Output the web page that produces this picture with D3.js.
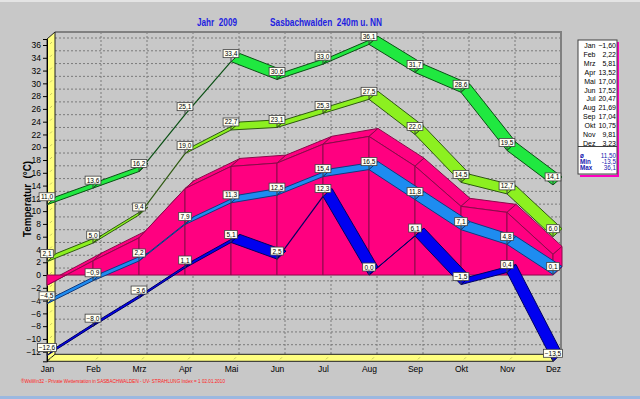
<!DOCTYPE html>
<html>
<head>
<meta charset="utf-8">
<script src="https://cdn.jsdelivr.net/npm/d3@7"></script>
<style>
  body { margin:0; background:#c8c8c8; }
  svg { display:block; font-family: Arial, "Liberation Sans", sans-serif; }
  text { white-space: pre; }
</style>
</head>
<body>
<script>
// --- data ---
var months = ["Jan","Feb","Mrz","Apr","Mai","Jun","Jul","Aug","Sep","Okt","Nov","Dez"];
var maxVals     = [11.0, 13.6, 16.2, 25.1, 33.4, 30.6, 33.0, 36.1, 31.7, 28.6, 19.5, 14.1];
var maxMeanVals = [2.1, 5.0, 9.4, 19.0, 22.7, 23.1, 25.3, 27.5, 22.0, 14.5, 12.7, 6.0];
var meanVals    = [-1.60, 2.22, 5.81, 13.52, 17.00, 17.52, 20.47, 21.69, 17.04, 10.75, 9.81, 3.23];
var minMeanVals = [-4.5, -0.9, 2.2, 7.9, 11.3, 12.5, 15.4, 16.5, 11.8, 7.1, 4.8, 0.1];
var minVals     = [-12.6, -8.0, -3.6, 1.1, 5.1, 2.5, 12.3, 0.0, 6.1, -1.5, 0.4, -13.5];
var yTicks = d3.range(-12, 37, 2);
var statLabels = ["ø", "Min", "Max"];
var statVals = ["11,50", "-13,5", "36,1"];

var W = 640, H = 399;
var D = [8, -7];          // 3d depth offset of walls
var RD = [9, -8];         // ribbon depth

var de = d3.formatLocale({decimal: ",", thousands: ".", grouping: [3], currency: ["", "€"]});
var f1 = de.format(".1f"), f2 = de.format(".2f");

var svg = d3.select("body").append("svg").attr("width", W).attr("height", H);
svg.append("rect").attr("width", W).attr("height", H).attr("fill", "#c8c8c8");
svg.append("rect").attr("width", W).attr("height", 2).attr("fill", "#e4e4e4");
svg.append("rect").attr("y", H - 3).attr("width", W).attr("height", 3).attr("fill", "#9bb8e0");

var x = d3.scalePoint().domain(months).range([47, 553]);
var y = d3.scaleLinear().domain([-13.5, 36.94]).range([361.3, 39]);

var xl = x(months[0]), xr = x(months[11]);
var yt = y.range()[1], yb = y.range()[0];

// back wall gridlines
var grid = svg.append("g");
grid.selectAll("line.h").data(yTicks).enter().append("line")
  .attr("x1", xl + D[0]).attr("x2", xr + D[0])
  .attr("y1", function(d){ return y(d) + D[1]; }).attr("y2", function(d){ return y(d) + D[1]; })
  .attr("stroke", "#7a7a7a").attr("stroke-dasharray", "2,2");
grid.selectAll("line.v").data(months.slice(1, 11)).enter().append("line")
  .attr("x1", function(d){ return x(d) + D[0]; }).attr("x2", function(d){ return x(d) + D[0]; })
  .attr("y1", yt + D[1]).attr("y2", yb + D[1])
  .attr("stroke", "#7a7a7a").attr("stroke-dasharray", "2,2");
// back wall border
svg.append("path")
  .attr("d", "M" + (xl + D[0]) + "," + (yt + D[1]) + "H" + (xr + D[0]) + "V" + (yb + D[1]))
  .attr("fill", "none").attr("stroke", "#808080").attr("stroke-width", 2);

// left wall and floor
var wallPts = [[xl, yt], [xl + D[0], yt + D[1]], [xl + D[0], yb + D[1]], [xl, yb]];
svg.append("polygon").attr("points", wallPts.join(" "))
  .attr("fill", "#ffff80").attr("stroke", "#202020").attr("stroke-width", 1);
var floorPts = [[xl, yb], [xr, yb], [xr + D[0], yb + D[1]], [xl + D[0], yb + D[1]]];
svg.append("polygon").attr("points", floorPts.join(" "))
  .attr("fill", "#ffff80").attr("stroke", "#202020").attr("stroke-width", 1);
svg.append("g").selectAll("line").data(yTicks).enter().append("line")
  .attr("x1", xl + 3).attr("x2", xl + 5)
  .attr("y1", function(d){ return y(d) - 1; }).attr("y2", function(d){ return y(d) - 3; })
  .attr("stroke", "#c8c860");
svg.append("g").selectAll("line").data(months).enter().append("line")
  .attr("x1", function(d){ return x(d) + 3; }).attr("x2", function(d){ return x(d) + 5; })
  .attr("y1", yb - 2).attr("y2", yb - 4)
  .attr("stroke", "#c8c860");

// axes
var ya = svg.append("g").attr("transform", "translate(" + xl + ",0)")
  .call(d3.axisLeft(y).tickValues(yTicks).tickSize(4).tickPadding(2));
ya.select(".domain").attr("stroke", "#000");
ya.selectAll("text").attr("font-size", 8.5).attr("font-family", "Arial").attr("fill", "#000");

var xa = svg.append("g").attr("transform", "translate(0," + yb + ")")
  .call(d3.axisBottom(x).tickSize(0).tickPadding(5));
xa.select(".domain").remove();
xa.selectAll("text").attr("font-size", 8.5).attr("font-family", "Arial").attr("fill", "#000");

// pink mean area (3d)
var area = svg.append("g");
var y0 = y(0);
for (var i = 0; i < 11; i++) {
  var a = [x(months[i]), y(meanVals[i])], b = [x(months[i + 1]), y(meanVals[i + 1])];
  // top face
  area.append("polygon")
    .attr("points", [a, b, [b[0] + RD[0], b[1] + RD[1]], [a[0] + RD[0], a[1] + RD[1]]].join(" "))
    .attr("fill", "#ff0080").attr("stroke", "#8a0a4a").attr("stroke-width", 1);
}
for (var i = 0; i < 11; i++) {
  var a = [x(months[i]), y(meanVals[i])], b = [x(months[i + 1]), y(meanVals[i + 1])];
  area.append("polygon")
    .attr("points", [[a[0], y0], a, b, [b[0], y0]].join(" "))
    .attr("fill", "#ff0080").attr("stroke", "#8a0a4a").attr("stroke-width", 1);
}
// right side face
var last = [xr, y(meanVals[11])];
area.append("polygon")
  .attr("points", [[xr, y0], last, [xr + RD[0], last[1] + RD[1]], [xr + RD[0], y0 + RD[1]]].join(" "))
  .attr("fill", "#ff0080").attr("stroke", "#8a0a4a").attr("stroke-width", 1);

// ribbons
function ribbon(vals, fill, edge) {
  var g = svg.append("g");
  for (var i = 0; i < vals.length - 1; i++) {
    var a = [x(months[i]), y(vals[i])], b = [x(months[i + 1]), y(vals[i + 1])];
    var cross = (b[0] - a[0]) * RD[1] - (b[1] - a[1]) * RD[0];
    if (cross < 0) {
      g.append("polygon")
        .attr("points", [a, b, [b[0] + RD[0], b[1] + RD[1]], [a[0] + RD[0], a[1] + RD[1]]].join(" "))
        .attr("fill", fill).attr("stroke", edge).attr("stroke-width", 1).attr("stroke-linejoin", "round");
    } else {
      g.append("line").attr("x1", a[0]).attr("y1", a[1]).attr("x2", b[0]).attr("y2", b[1])
        .attr("stroke", edge).attr("stroke-width", 1.2);
    }
  }
}
ribbon(minMeanVals, "#1e8cf0", "#103a80");
ribbon(minVals, "#0000f0", "#000060");
ribbon(maxMeanVals, "#8cf020", "#2e5a10");
ribbon(maxVals, "#20e840", "#0a5014");

// value marks
function marks(vals) {
  var g = svg.append("g").selectAll("g").data(vals).enter().append("g")
    .attr("transform", function(d, i){ return "translate(" + x(months[i]) + "," + y(d) + ")"; });
  g.append("line").attr("x1", 0).attr("y1", -4).attr("x2", 0).attr("y2", 0).attr("stroke", "#404040");
  g.append("rect")
    .attr("x", function(d){ return -(f1(d).length * 3.2 + 3) / 2; })
    .attr("width", function(d){ return f1(d).length * 3.2 + 3; })
    .attr("y", -12).attr("height", 8)
    .attr("fill", "#fffff4").attr("stroke", "#404040").attr("stroke-width", 0.8);
  g.append("text").attr("y", -5.5).attr("text-anchor", "middle")
    .attr("font-size", 6.5).attr("fill", "#000").text(function(d){ return f1(d); });
}
marks(maxVals);
marks(maxMeanVals);
marks(minMeanVals);
marks(minVals);

// titles
svg.append("text").attr("x", 197).attr("y", 26)
  .attr("font-size", 10).attr("font-weight", "bold").attr("fill", "#1e1ee0")
  .attr("textLength", 40).attr("lengthAdjust", "spacingAndGlyphs").text("Jahr  2009");
svg.append("text").attr("x", 270).attr("y", 26)
  .attr("font-size", 10).attr("font-weight", "bold").attr("fill", "#1e1ee0")
  .attr("textLength", 112).attr("lengthAdjust", "spacingAndGlyphs").text("Sasbachwalden  240m u. NN");
svg.append("text").attr("transform", "translate(31,237) rotate(-90)")
  .attr("font-size", 10).attr("font-weight", "bold").attr("fill", "#000")
  .attr("textLength", 76).attr("lengthAdjust", "spacingAndGlyphs").text("Temperatur  (°C)");

// legend box
var lg = svg.append("g");
lg.append("path").attr("d", "M618,42V176H580").attr("fill", "none").attr("stroke", "#ff00c0").attr("stroke-width", 2);
lg.append("rect").attr("x", 578).attr("y", 40).attr("width", 39).attr("height", 134)
  .attr("fill", "#fff").attr("stroke", "#404040");
lg.append("line").attr("x1", 578).attr("x2", 617).attr("y1", 146.5).attr("y2", 146.5).attr("stroke", "#404040");
lg.selectAll("text.m").data(months).enter().append("text")
  .attr("x", 595.5).attr("y", function(d, i){ return 48 + i * 8.9; }).attr("text-anchor", "end")
  .attr("font-size", 7).attr("fill", "#000").text(function(d){ return d; });
lg.selectAll("text.v").data(meanVals).enter().append("text")
  .attr("x", 616).attr("y", function(d, i){ return 48 + i * 8.9; }).attr("text-anchor", "end")
  .attr("font-size", 7).attr("fill", "#000").text(function(d){ return f2(d); });
lg.selectAll("text.s").data(statLabels).enter().append("text")
  .attr("x", 580).attr("y", function(d, i){ return 158 + i * 5.8; })
  .attr("font-size", 6.3).attr("font-weight", "bold").attr("fill", "#2020b0").text(function(d){ return d; });
lg.selectAll("text.sv").data(statVals).enter().append("text")
  .attr("x", 616).attr("y", function(d, i){ return 158 + i * 5.8; }).attr("text-anchor", "end")
  .attr("font-size", 6.3).attr("fill", "#2020b0").text(function(d){ return d; });

// footer
svg.append("text").attr("x", 21).attr("y", 383)
  .attr("font-size", 5.5).attr("fill", "#ff2020")
  .attr("textLength", 204).attr("lengthAdjust", "spacingAndGlyphs")
  .text("®WsWin32 - Private Wetterstation in SASBACHWALDEN - UV- STRAHLUNG Index = 1 02.01.2010");
</script>
</body>
</html>
